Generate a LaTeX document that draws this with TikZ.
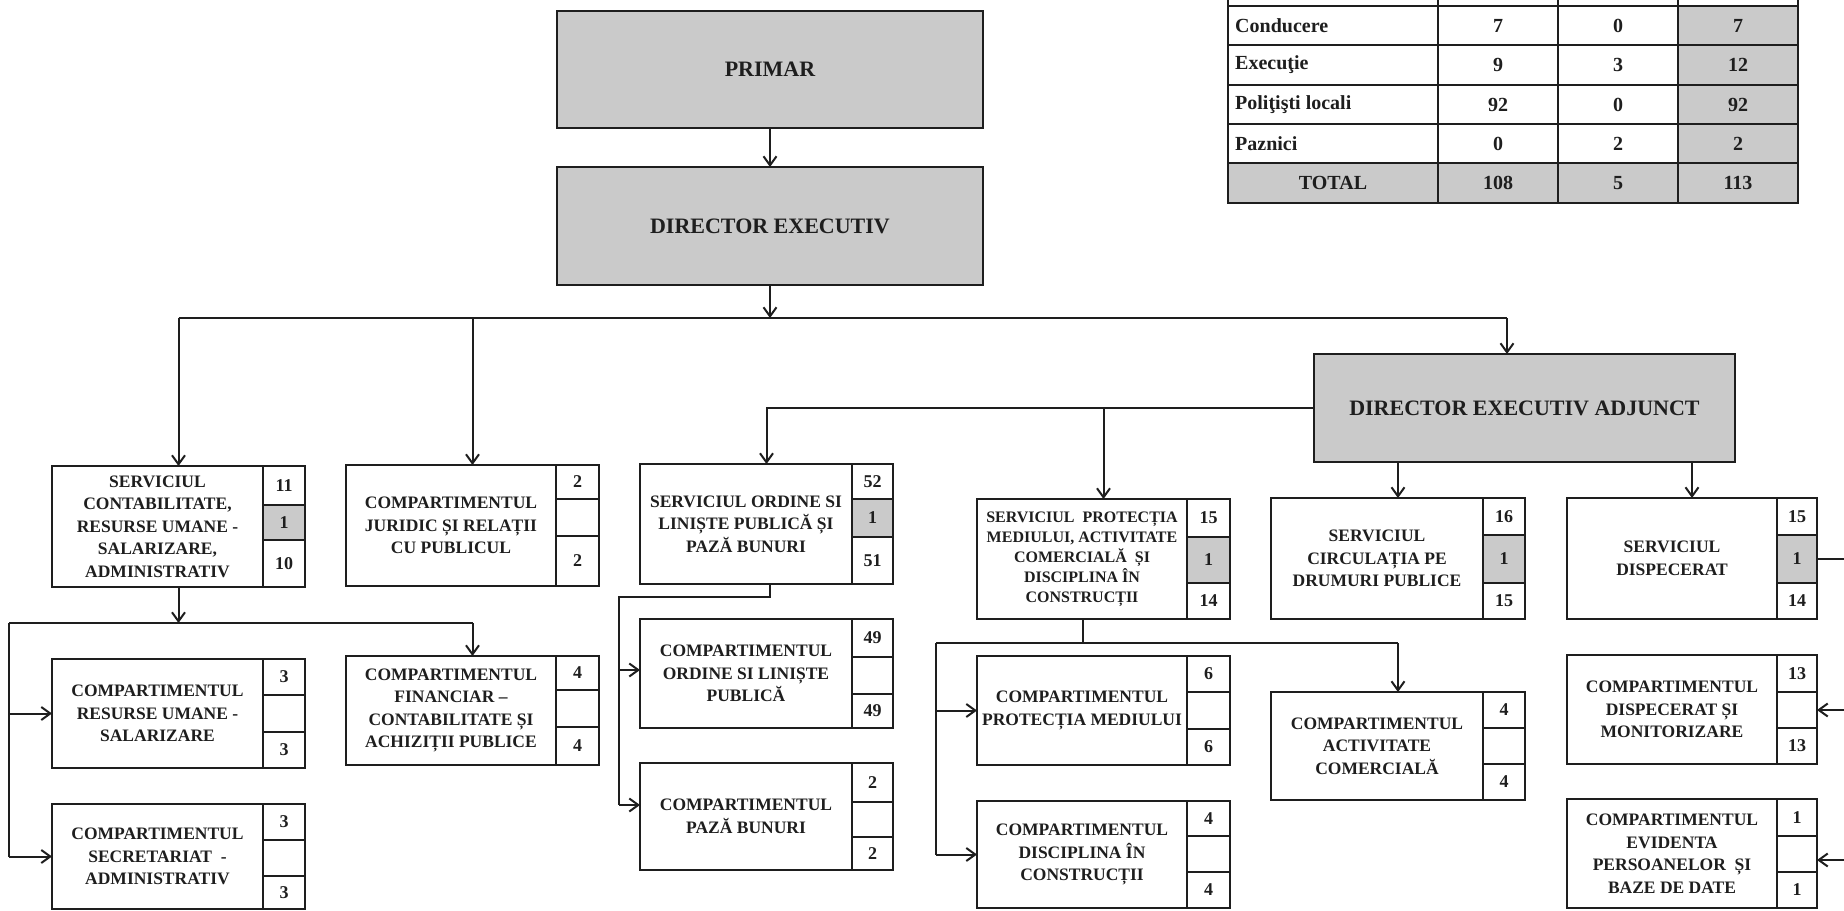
\documentclass[tikz,border=0pt]{standalone}
\usepackage{fontspec}
\setmainfont{Liberation Serif}
\usetikzlibrary{arrows.meta}
\pgfdeclarelayer{bg}
\pgfsetlayers{bg,main}
\definecolor{ink}{HTML}{1E1E1E}
\definecolor{boxgray}{HTML}{CACACA}
\tikzset{
  outer/.style={draw=ink, line width=2.8pt},
  tline/.style={draw=ink, line width=1.6pt},
  cellbox/.style={draw=ink, line width=1.6pt, inner sep=0pt, outer sep=0pt},
  txtbox/.style={inner sep=1pt, outer sep=0pt, align=center, text=ink,
    font=\bfseries\fontsize{17.5}{22.5}\selectfont},
  num/.style={text=ink, inner sep=0pt, font=\bfseries\fontsize{18}{20}\selectfont},
  conn/.style={draw=ink, line width=2pt},
  arr/.style={conn, -{Straight Barb[length=9pt,width=13pt]}},
  topbox/.style={draw=ink, fill=boxgray, line width=2.8pt, inner sep=0pt, outer sep=0pt,
    text=ink, font=\bfseries\fontsize{22}{26}\selectfont},
  tlab/.style={text=ink, inner sep=0pt, font=\bfseries\fontsize{20}{22}\selectfont},
}
% #1 name, #2 x left, #3 x of number column, #4 x right,
% #5 y top, #6 y row 1/2, #7 y row 2/3, #8 y bottom, #9 text
\newcommand\obox[9]{%
  \pgfmathsetmacro\obwa{#3-#2}%
  \pgfmathsetmacro\obwb{#4-#3}%
  \pgfmathsetmacro\obha{#8-#5}%
  \pgfmathsetmacro\obhb{#6-#5}%
  \pgfmathsetmacro\obhc{#7-#6}%
  \pgfmathsetmacro\obhd{#8-#7}%
  \pgfmathsetmacro\obxm{(#2+#4)/2}%
  \pgfmathsetmacro\obym{(#5+#8)/2}%
  \pgfmathsetmacro\obxt{(#2+#3)/2}%
  \pgfmathsetmacro\obxc{(#3+#4)/2}%
  \node[txtbox, minimum width=\obwa pt, minimum height=\obha pt] (#1) at (\obxt,\obym) {#9};
  \node[cellbox, minimum width=\obwb pt, minimum height=\obhb pt] (#1-a) at (\obxc,{(#5+#6)/2}) {};
  \node[cellbox, minimum width=\obwb pt, minimum height=\obhc pt] (#1-b) at (\obxc,{(#6+#7)/2}) {};
  \node[cellbox, minimum width=\obwb pt, minimum height=\obhd pt] (#1-c) at (\obxc,{(#7+#8)/2}) {};
  \coordinate (#1-n) at (\obxm,#5);
  \coordinate (#1-s) at (\obxm,#8);
  \coordinate (#1-w) at (#2,\obym);
  \coordinate (#1-e) at (#4,\obym);
  \draw[outer] (#2,#5) rectangle (#4,#8);
}
\newcommand\onums[5]{%
  \begin{pgfonlayer}{bg}\fill[fill=#5] (#1-b.south west) rectangle (#1-b.north east);\end{pgfonlayer}
  \node[num] (#1-ta) at (#1-a) {#2};
  \node[num] (#1-tb) at (#1-b) {#3};
  \node[num] (#1-tc) at (#1-c) {#4};
}
\begin{document}
\begin{tikzpicture}[x=1pt,y=-1pt]
\useasboundingbox (0,0) rectangle (1844,910);

% ---- top boxes
\node[topbox, minimum width=426pt, minimum height=117pt] (primar) at (770,69.5) {PRIMAR};
\node[topbox, minimum width=426pt, minimum height=118pt] (de) at (770,226) {DIRECTOR EXECUTIV};
\node[topbox, minimum width=421pt, minimum height=108pt] (dea) at (1524.5,408) {DIRECTOR EXECUTIV ADJUNCT};

% ---- table
\begin{pgfonlayer}{bg}
\fill[fill=boxgray] (1678,6) rectangle (1798,163);
\fill[fill=boxgray] (1228,163) rectangle (1798,203);
\end{pgfonlayer}
\foreach \yy in {45,85,124,163} \draw[tline] (1228,\yy) -- (1798,\yy);
\draw[outer] (1228,6) -- (1798,6);
\foreach \xx in {1438,1558,1678} \draw[tline] (\xx,-20) -- (\xx,203);
\draw[outer] (1228,-20) -- (1228,203) -- (1798,203) -- (1798,-20);
\node[tlab, anchor=west] (t1) at (1235,25.5) {Conducere};
\node[tlab, anchor=west] (t2) at (1235,65) {Execuţie};
\node[tlab, anchor=west] (t3) at (1235,104.5) {Poliţişti locali};
\node[tlab, anchor=west] (t4) at (1235,143.5) {Paznici};
\node[tlab] (t5) at (1333,183) {TOTAL};
\node[tlab] (t1a) at (1498,25.5) {7};   \node[tlab] (t1b) at (1618,25.5) {0};  \node[tlab] (t1c) at (1738,25.5) {7};
\node[tlab] (t2a) at (1498,65) {9};     \node[tlab] (t2b) at (1618,65) {3};    \node[tlab] (t2c) at (1738,65) {12};
\node[tlab] (t3a) at (1498,104.5) {92}; \node[tlab] (t3b) at (1618,104.5) {0}; \node[tlab] (t3c) at (1738,104.5) {92};
\node[tlab] (t4a) at (1498,143.5) {0};  \node[tlab] (t4b) at (1618,143.5) {2}; \node[tlab] (t4c) at (1738,143.5) {2};
\node[tlab] (t5a) at (1498,183) {108};  \node[tlab] (t5b) at (1618,183) {5};   \node[tlab] (t5c) at (1738,183) {113};

% ---- boxes
\obox{sc}{52}{263}{305}{466}{505}{540}{587}{SERVICIUL\\CONTABILITATE,\\RESURSE UMANE -\\SALARIZARE,\\ADMINISTRATIV}
\onums{sc}{11}{1}{10}{boxgray}
\obox{jur}{346}{556}{599}{465}{499}{536}{586}{COMPARTIMENTUL\\JURIDIC ȘI RELAȚII\\CU PUBLICUL}
\onums{jur}{2}{}{2}{white}
\obox{sor}{640}{852}{893}{464}{499}{537}{584}{SERVICIUL ORDINE SI\\LINIȘTE PUBLICĂ ȘI\\PAZĂ BUNURI}
\onums{sor}{52}{1}{51}{boxgray}
\begin{scope}[txtbox/.append style={font=\bfseries\fontsize{16}{20}\selectfont}]
\obox{sprot}{977}{1187}{1230}{499}{537}{583}{619}{SERVICIUL\ \ PROTECȚIA\\MEDIULUI, ACTIVITATE\\COMERCIALĂ\ \ ȘI\\DISCIPLINA ÎN\\CONSTRUCȚII}
\onums{sprot}{15}{1}{14}{boxgray}
\end{scope}
\obox{circ}{1271}{1483}{1525}{498}{535}{583}{619}{SERVICIUL\\CIRCULAȚIA PE\\DRUMURI PUBLICE}
\onums{circ}{16}{1}{15}{boxgray}
\obox{disp}{1567}{1777}{1817}{498}{535}{583}{619}{SERVICIUL\\DISPECERAT}
\onums{disp}{15}{1}{14}{boxgray}
\obox{rum}{52}{263}{305}{659}{695}{732}{768}{COMPARTIMENTUL\\RESURSE UMANE -\\SALARIZARE}
\onums{rum}{3}{}{3}{white}
\obox{sec}{52}{263}{305}{804}{840}{876}{909}{COMPARTIMENTUL\\SECRETARIAT\ \ -\\ADMINISTRATIV}
\onums{sec}{3}{}{3}{white}
\obox{fin}{346}{556}{599}{656}{690}{727}{765}{COMPARTIMENTUL\\FINANCIAR –\\CONTABILITATE ȘI\\ACHIZIȚII PUBLICE}
\onums{fin}{4}{}{4}{white}
\obox{col}{640}{852}{893}{619}{657}{694}{728}{COMPARTIMENTUL\\ORDINE SI LINIȘTE\\PUBLICĂ}
\onums{col}{49}{}{49}{white}
\obox{paza}{640}{852}{893}{763}{802}{837}{870}{COMPARTIMENTUL\\PAZĂ BUNURI}
\onums{paza}{2}{}{2}{white}
\obox{pm}{977}{1187}{1230}{656}{692}{729}{765}{COMPARTIMENTUL\\PROTECȚIA MEDIULUI}
\onums{pm}{6}{}{6}{white}
\obox{dc}{977}{1187}{1230}{801}{836}{872}{908}{COMPARTIMENTUL\\DISCIPLINA ÎN\\CONSTRUCȚII}
\onums{dc}{4}{}{4}{white}
\obox{act}{1271}{1483}{1525}{692}{728}{764}{800}{COMPARTIMENTUL\\ACTIVITATE\\COMERCIALĂ}
\onums{act}{4}{}{4}{white}
\obox{cdm}{1567}{1777}{1817}{655}{692}{728}{764}{COMPARTIMENTUL\\DISPECERAT ȘI\\MONITORIZARE}
\onums{cdm}{13}{}{13}{white}
\obox{ev}{1567}{1777}{1817}{799}{836}{872}{908}{COMPARTIMENTUL\\EVIDENTA\\PERSOANELOR\ \ ȘI\\BAZE DE DATE}
\onums{ev}{1}{}{1}{white}

% ---- connectors
\draw[arr] (primar.south) -- (de.north);
\coordinate (bus) at (770,318);
\coordinate (busR) at (1507,318);
\draw[arr] (de.south) -- (bus);
\draw[conn] (sc-n |- bus) -- (busR);
\draw[arr] (busR) -- (busR |- dea.north);
\draw[arr] (sc-n |- bus) -- (sc-n);
\draw[arr] (jur-n |- bus) -- (jur-n);

\draw[arr] (dea.west) -- (sor-n |- dea.west) -- (sor-n);
\draw[arr] (sprot-n |- dea.west) -- (sprot-n);
\draw[arr] (dea.south -| circ-n) -- (circ-n);
\draw[arr] (dea.south -| disp-n) -- (disp-n);

\coordinate (scL) at (9,623);
\draw[arr] (sc-s) -- (sc-s |- scL);
\draw[conn] (scL) -- (fin-n |- scL);
\draw[arr] (fin-n |- scL) -- (fin-n);
\draw[conn] (scL) -- (scL |- sec-w);
\draw[arr] (scL |- rum-w) -- (rum-w);
\draw[arr] (scL |- sec-w) -- (sec-w);

\coordinate (oT) at (770,597);
\coordinate (oL) at (619,597);
\coordinate (oM) at (619,670);
\coordinate (oB) at (619,805);
\draw[conn] (oT |- sor-s) -- (oT) -- (oL) -- (oB);
\draw[arr] (oM) -- (oM -| col-w);
\draw[arr] (oB) -- (oB -| paza-w);

\coordinate (pT) at (1083,643);
\coordinate (pL) at (936,643);
\draw[conn] (pT |- sprot-s) -- (pT);
\draw[conn] (pL) -- (act-n |- pL);
\draw[arr] (act-n |- pL) -- (act-n);
\draw[conn] (pL) -- (pL |- dc-w);
\draw[arr] (pL |- pm-w) -- (pm-w);
\draw[arr] (pL |- dc-w) -- (dc-w);

\coordinate (rM) at (1870,710);
\coordinate (rB) at (1870,860);
\draw[conn] (disp-b.east) -- (rB |- disp-b.east) -- (rB);
\draw[arr] (rM) -- (rM -| cdm-e);
\draw[arr] (rB) -- (rB -| ev-e);
\end{tikzpicture}
\end{document}
